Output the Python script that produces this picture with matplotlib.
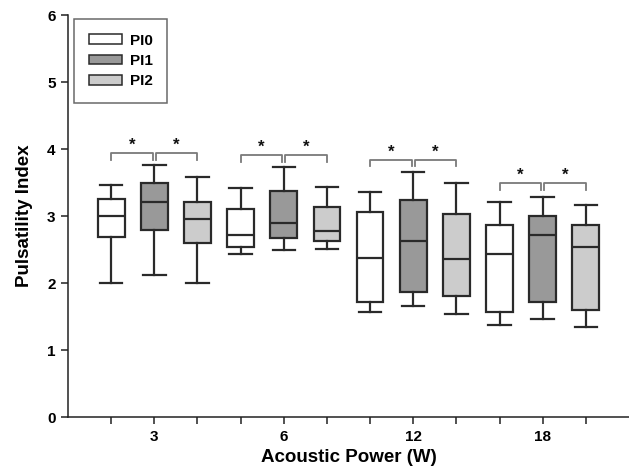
import numpy as np
import matplotlib
matplotlib.use('Agg')
import matplotlib.pyplot as plt
from matplotlib.patches import Patch

plt.rcParams['font.family'] = ['Liberation Sans', 'DejaVu Sans']
plt.rcParams['font.weight'] = 'bold'

powers = ['3', '6', '12', '18']
series = ['PI0', 'PI1', 'PI2']
colors = ['#ffffff', '#999999', '#cccccc']

# box stats, one list per series, one value per power
pi0_lo = [2.00, 2.43, 1.57, 1.37]
pi0_q1 = [2.68, 2.53, 1.71, 1.57]
pi0_med = [3.00, 2.72, 2.38, 2.43]
pi0_q3 = [3.25, 3.10, 3.06, 2.86]
pi0_hi = [3.46, 3.42, 3.36, 3.21]

pi1_lo = [2.12, 2.49, 1.66, 1.46]
pi1_q1 = [2.79, 2.67, 1.87, 1.71]
pi1_med = [3.21, 2.89, 2.62, 2.71]
pi1_q3 = [3.50, 3.37, 3.24, 3.00]
pi1_hi = [3.76, 3.73, 3.65, 3.29]

pi2_lo = [2.00, 2.51, 1.53, 1.34]
pi2_q1 = [2.60, 2.62, 1.80, 1.60]
pi2_med = [2.95, 2.78, 2.36, 2.54]
pi2_q3 = [3.21, 3.13, 3.03, 2.86]
pi2_hi = [3.58, 3.44, 3.50, 3.16]

bracket_y = [3.94, 3.91, 3.84, 3.49]

all_stats = [
    (pi0_lo, pi0_q1, pi0_med, pi0_q3, pi0_hi),
    (pi1_lo, pi1_q1, pi1_med, pi1_q3, pi1_hi),
    (pi2_lo, pi2_q1, pi2_med, pi2_q3, pi2_hi),
]

fig = plt.figure(figsize=(6.29, 4.69), dpi=100)
ax = fig.add_axes([68/629, 1-417/469, 1-68/629, (417-15)/469])

ec = '#2a2a2a'
lw = 1.6
for i, (lo, q1, med, q3, hi) in enumerate(all_stats):
    stats = []
    for g in range(len(powers)):
        stats.append(dict(whislo=lo[g], q1=q1[g], med=med[g], q3=q3[g], whishi=hi[g], fliers=[]))
    pos = [3*g + 1 + i for g in range(len(powers))]
    ax.bxp(stats, positions=pos, widths=0.62, capwidths=0.52, patch_artist=True, showfliers=False,
           boxprops=dict(facecolor=colors[i], edgecolor=ec, linewidth=lw),
           medianprops=dict(color=ec, linewidth=lw),
           whiskerprops=dict(color=ec, linewidth=lw),
           capprops=dict(color=ec, linewidth=lw))

# significance brackets
bc = '#7a7a7a'
drop = 0.1
for g, yb in enumerate(bracket_y):
    c0, c1, c2 = 3*g + 1, 3*g + 2, 3*g + 3
    for a, b in [(c0, c1 - 0.03), (c1 + 0.03, c2)]:
        ax.plot([a, a, b, b], [yb - drop, yb, yb, yb - drop], color=bc, lw=1.3, clip_on=False)
        ax.text((a + b) / 2, yb + 0.0, '*', ha='center', va='bottom', fontsize=12, color='#111111')

ax.set_xlim(0, 13)
ax.set_ylim(0, 6)
ax.set_xticks(np.arange(1, 13))
ax.set_xticklabels(['', powers[0], '', '', powers[1], '', '', powers[2], '', '', powers[3], ''])
ax.set_yticks(np.arange(0, 7))
ax.tick_params(direction='out', length=5, width=1.1, labelsize=11, pad=4, color='#222222')
ax.spines['top'].set_visible(False)
ax.spines['right'].set_visible(False)
for s in ['left', 'bottom']:
    ax.spines[s].set_linewidth(1.1)
    ax.spines[s].set_color('#222222')

ax.set_xlabel('Acoustic Power (W)', fontsize=13.5, fontweight='bold', labelpad=4)
ax.set_ylabel('Pulsatility Index', fontsize=13.5, fontweight='bold', labelpad=10)

handles = [Patch(facecolor=colors[i], edgecolor=ec, linewidth=1.1, label=series[i]) for i in range(3)]
leg = ax.legend(handles=handles, loc='upper left', bbox_to_anchor=(74/629, 1-19/469),
                bbox_transform=fig.transFigure, borderaxespad=0, fancybox=False,
                edgecolor='#444444', handlelength=2.2, handleheight=0.6, labelspacing=0.42,
                borderpad=0.95, handletextpad=0.5, fontsize=11)
leg.get_frame().set_linewidth(1.1)

fig.savefig('out.png', dpi=100)
